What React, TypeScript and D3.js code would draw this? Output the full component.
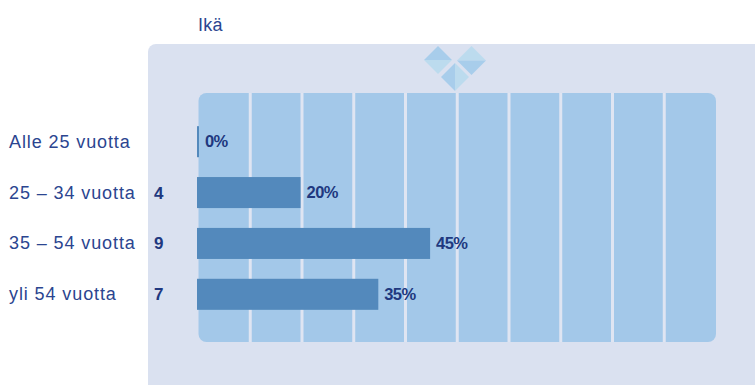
import React from "react";
import * as d3 from "d3";

const categories = ["Alle 25 vuotta", "25 – 34 vuotta", "35 – 54 vuotta", "yli 54 vuotta"];
const counts = [null, 4, 9, 7];
const percents = [0, 20, 45, 35];
const gridSteps = [10, 20, 30, 40, 50, 60, 70, 80, 90];
const title = "Ikä";

const WIDTH = 755;
const HEIGHT = 385;
const TEXT = "#2b4590";
const DARK_TEXT = "#20387f";
const BAR = "#5389bc";

// Bars and the gridded backdrop run on slightly offset tracks.
const x = d3.scaleLinear().domain([0, 100]).range([197, 715]);
const gridX = d3.scaleLinear().domain([0, 100]).range([198.5, 716]);
const y = d3.scaleBand<string>().domain(categories).range([116, 320]).paddingInner(0.39).paddingOuter(0.2);

// Top ornament: three diamonds, each split into two shaded halves.
function Diamond({ cx, cy, r, vertical, a, b }: { cx: number; cy: number; r: number; vertical: boolean; a: string; b: string }) {
  const halfA = vertical
    ? [[cx, cy - r], [cx - r, cy], [cx, cy + r]]
    : [[cx - r, cy], [cx, cy - r], [cx + r, cy]];
  const halfB = vertical
    ? [[cx, cy - r], [cx + r, cy], [cx, cy + r]]
    : [[cx - r, cy], [cx, cy + r], [cx + r, cy]];
  return (
    <g>
      <polygon points={halfA.join(" ")} fill={a} />
      <polygon points={halfB.join(" ")} fill={b} />
    </g>
  );
}

export default function App() {
  return (
    <svg
      width={WIDTH}
      height={HEIGHT}
      style={{ position: "absolute", left: 0, top: 0 }}
      fontFamily="'Liberation Sans', Arial, sans-serif"
    >
      <rect width={WIDTH} height={HEIGHT} fill="#ffffff" />
      <text x={198} y={31} fontSize={18} fill={TEXT} letterSpacing={0.3}>{title}</text>

      <path d={`M148 ${HEIGHT}V52a8 8 0 0 1 8-8H${WIDTH}V${HEIGHT}Z`} fill="#dae1f0" />

      <Diamond cx={438} cy={60} r={14} vertical={false} a="#a8cdeb" b="#bcdbee" />
      <Diamond cx={471.5} cy={60.5} r={14.5} vertical={false} a="#bcdbee" b="#a8cdeb" />
      <Diamond cx={455} cy={77} r={14} vertical a="#a8cdeb" b="#bcdbee" />

      <rect x={gridX(0)} y={93} width={gridX(100) - gridX(0)} height={249} rx={8} fill="#a3c8e9" />
      {gridSteps.map((s) => (
        <line key={s} x1={gridX(s)} x2={gridX(s)} y1={93} y2={342} stroke="#dfe5f2" strokeWidth={3} />
      ))}

      {categories.map((c, i) => {
        const top = y(c)!;
        const h = y.bandwidth();
        const mid = top + h / 2;
        const w = Math.max(x(percents[i]) - x(0), 2);
        return (
          <g key={c}>
            <text x={9} y={mid + 6} fontSize={18} fill={TEXT} letterSpacing={0.9}>{c}</text>
            {counts[i] !== null && (
              <text x={154} y={mid + 6} fontSize={17} fontWeight="bold" fill={DARK_TEXT}>{counts[i]}</text>
            )}
            <rect x={x(0)} y={top} width={w} height={h} fill={BAR} />
            <text
              x={x(0) + w + 6}
              y={mid + 5.5}
              fontSize={16.5}
              fontWeight="bold"
              fill={DARK_TEXT}
              letterSpacing={-0.6}
            >
              {percents[i]}%
            </text>
          </g>
        );
      })}
    </svg>
  );
}
